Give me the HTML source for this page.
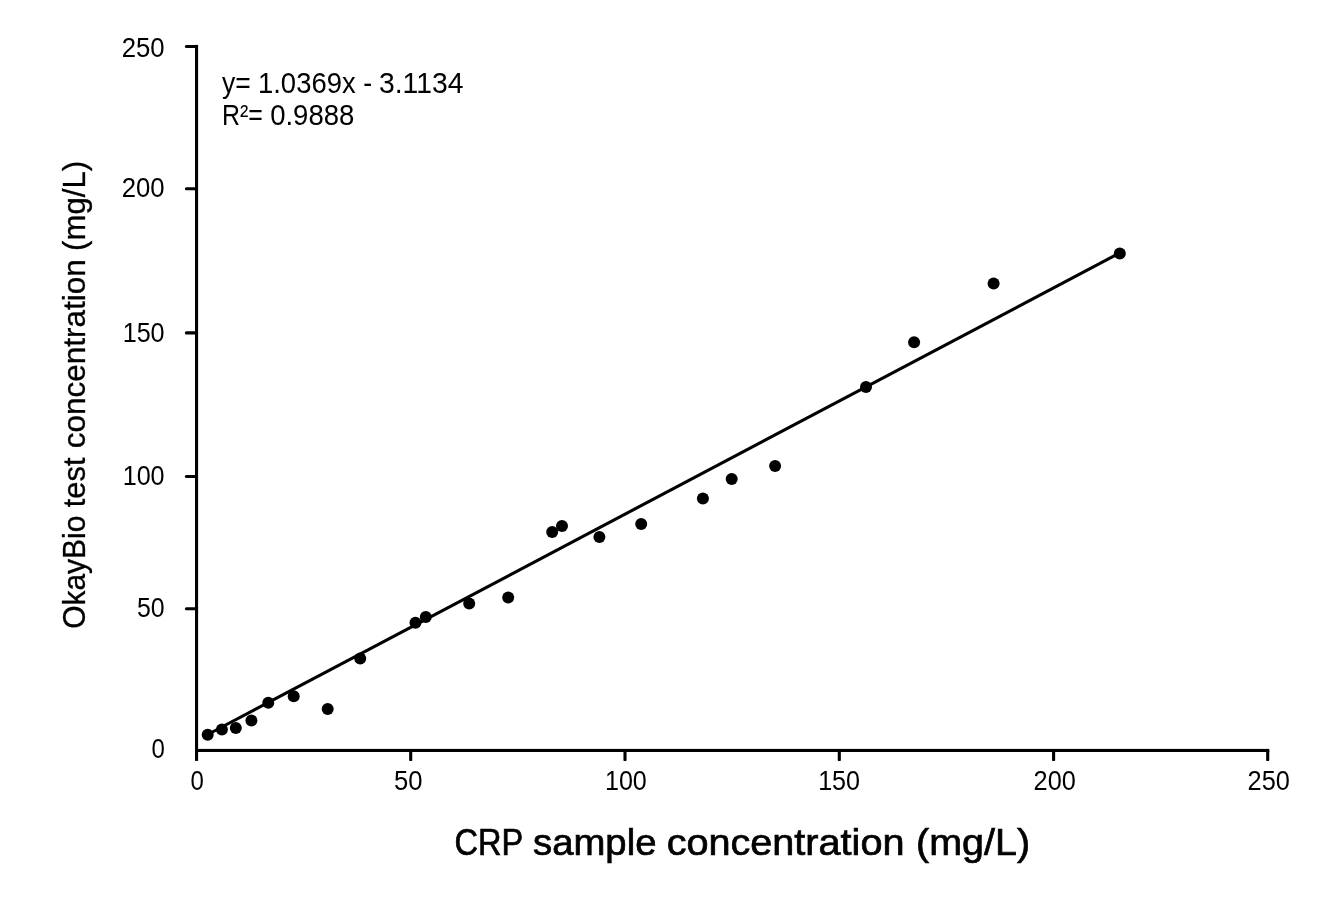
<!DOCTYPE html>
<html lang="en"><head><meta charset="utf-8"><title>CRP correlation</title>
<style>html,body{margin:0;padding:0;background:#fff}body{width:1323px;height:913px;overflow:hidden;font-family:"Liberation Sans",sans-serif}svg{display:block}text{font-family:"Liberation Sans",sans-serif;fill:#000}</style></head><body>
<svg width="1323" height="913" viewBox="0 0 1323 913">
<rect width="1323" height="913" fill="#fff"/>
<g fill="#000">
<rect x="195" y="44.9" width="3.1" height="716"/>
<rect x="195" y="748.9" width="1074.3" height="3.1"/>
<rect x="184.9" y="44.95" width="11.5" height="3.1" rx="1.5"/>
<rect x="184.9" y="187.25" width="11.5" height="3.1" rx="1.5"/>
<rect x="184.9" y="331.35" width="11.5" height="3.1" rx="1.5"/>
<rect x="184.9" y="474.95" width="11.5" height="3.1" rx="1.5"/>
<rect x="184.9" y="607.25" width="11.5" height="3.1" rx="1.5"/>
<rect x="409.15" y="750" width="3.1" height="11" rx="0.8"/>
<rect x="623.45" y="750" width="3.1" height="11" rx="0.8"/>
<rect x="837.75" y="750" width="3.1" height="11" rx="0.8"/>
<rect x="1052.05" y="750" width="3.1" height="11" rx="0.8"/>
<rect x="1266.15" y="750" width="3.1" height="11" rx="0.8"/>
</g>
<text transform="translate(121.69 56.7) scale(0.9534 1)" font-size="27">250</text>
<text transform="translate(121.69 197.4) scale(0.9534 1)" font-size="27">200</text>
<text transform="translate(122.63 341.7) scale(0.9323 1)" font-size="27">150</text>
<text transform="translate(122.63 484.7) scale(0.9323 1)" font-size="27">100</text>
<text transform="translate(136.92 616.7) scale(0.9223 1)" font-size="27">50</text>
<text transform="translate(151.45 757.7) scale(0.8889 1)" font-size="27">0</text>
<text transform="translate(190.55 789.7) scale(0.8889 1)" font-size="27">0</text>
<text transform="translate(394.10 789.7) scale(0.9503 1)" font-size="27">50</text>
<text transform="translate(604.93 789.7) scale(0.9300 1)" font-size="27">100</text>
<text transform="translate(818.13 789.7) scale(0.9300 1)" font-size="27">150</text>
<text transform="translate(1033.61 789.7) scale(0.9371 1)" font-size="27">200</text>
<text transform="translate(1247.61 789.7) scale(0.9394 1)" font-size="27">250</text>
<text transform="translate(222.10 92.8) scale(0.9221 1)" font-size="28.8">y=</text>
<text transform="translate(257.98 92.8) scale(0.9534 1)" font-size="28.8">1.0369x</text>
<text transform="translate(363.26 92.8) scale(0.9281 1)" font-size="28.8">-</text>
<text transform="translate(378.91 92.8) scale(0.9842 1)" font-size="28.8">3.1134</text>
<text transform="translate(222.05 124.7) scale(0.8658 1)" font-size="28.8">R²=</text>
<text transform="translate(270.14 124.7) scale(0.9568 1)" font-size="28.8">0.9888</text>
<text transform="translate(454.59 854.8) scale(0.8924 1)" font-size="36.5" stroke="#000" stroke-width="0.7">CRP</text>
<text transform="translate(533.07 854.8) scale(1.0489 1)" font-size="36.5" stroke="#000" stroke-width="0.7">sample</text>
<text transform="translate(666.64 854.8) scale(1.0856 1)" font-size="36.5" stroke="#000" stroke-width="0.7">concentration</text>
<text transform="translate(916.03 854.8) scale(1.0814 1)" font-size="36.5" stroke="#000" stroke-width="0.7">(mg/L)</text>
<text transform="translate(85.1 628.86) rotate(-90) scale(0.9831 1)" font-size="30.5" stroke="#000" stroke-width="0.3">OkayBio</text>
<text transform="translate(85.1 507.25) rotate(-90) scale(1.0148 1)" font-size="30.5" stroke="#000" stroke-width="0.3">test</text>
<text transform="translate(85.1 448.33) rotate(-90) scale(1.0335 1)" font-size="30.5" stroke="#000" stroke-width="0.3">concentration</text>
<text transform="translate(85.1 250.91) rotate(-90) scale(1.0233 1)" font-size="30.5" stroke="#000" stroke-width="0.3">(mg/L)</text>
<line x1="207.7" y1="734.5" x2="1119.8" y2="252.9" stroke="#000" stroke-width="3.1"/>
<g fill="#000">
<circle cx="207.7" cy="734.8" r="6"/>
<circle cx="221.9" cy="729.6" r="6"/>
<circle cx="235.8" cy="728.0" r="6"/>
<circle cx="251.4" cy="720.4" r="6"/>
<circle cx="268.3" cy="702.7" r="6"/>
<circle cx="293.7" cy="696.2" r="6"/>
<circle cx="327.7" cy="708.9" r="6"/>
<circle cx="360.2" cy="658.6" r="6"/>
<circle cx="415.5" cy="622.8" r="6"/>
<circle cx="425.8" cy="617.1" r="6"/>
<circle cx="469.2" cy="603.5" r="6"/>
<circle cx="508.2" cy="597.4" r="6"/>
<circle cx="552.2" cy="531.9" r="6"/>
<circle cx="562.0" cy="525.9" r="6"/>
<circle cx="599.4" cy="537.0" r="6"/>
<circle cx="641.2" cy="523.9" r="6"/>
<circle cx="702.9" cy="498.6" r="6"/>
<circle cx="731.7" cy="479.1" r="6"/>
<circle cx="775.1" cy="465.9" r="6"/>
<circle cx="866.0" cy="387.0" r="6"/>
<circle cx="914.1" cy="342.2" r="6"/>
<circle cx="993.6" cy="283.5" r="6"/>
<circle cx="1119.8" cy="253.4" r="6"/>
</g>
</svg></body></html>
